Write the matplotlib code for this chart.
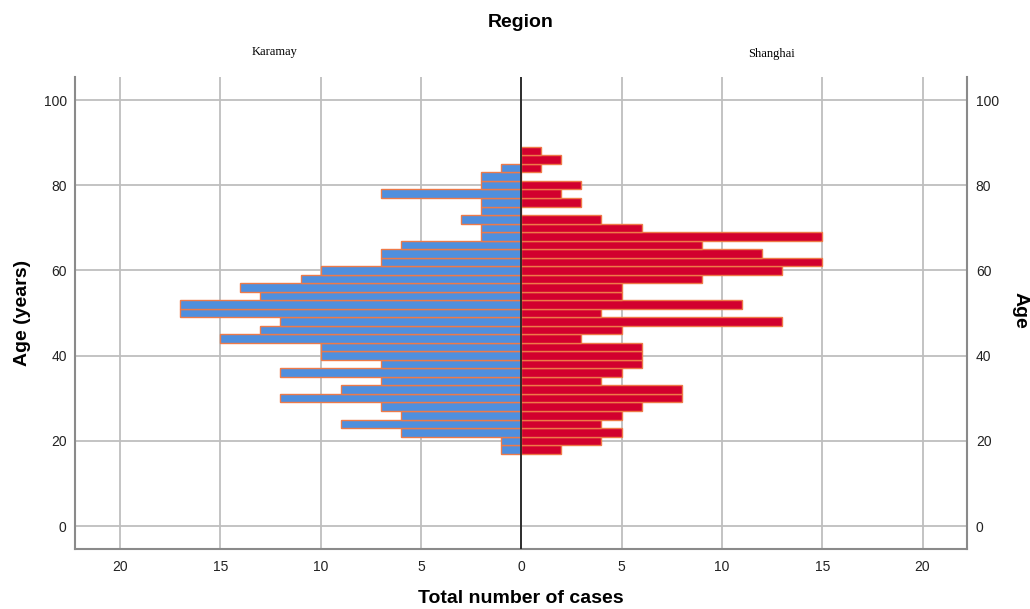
import numpy as np
import matplotlib.pyplot as plt

# age bins (lower edge, 2-year width)
edad = np.arange(17, 89, 2)

karamay = [1, 1, 6, 9, 6, 7, 12, 9, 7, 12, 7, 10, 10, 15, 13, 12, 17, 17,
           13, 14, 11, 10, 7, 7, 6, 2, 2, 3, 2, 2, 7, 2, 2, 1, 0, 0]
shanghai = [2, 4, 5, 4, 5, 6, 8, 8, 4, 5, 6, 6, 6, 3, 5, 13, 4, 11,
            5, 5, 9, 13, 15, 12, 9, 15, 6, 4, 0, 3, 2, 3, 0, 1, 2, 1]

xt = [-20, -15, -10, -5, 0, 5, 10, 15, 20]
xt_lab = ['20', '15', '10', '5', '0', '5', '10', '15', '20']
yt = [0, 20, 40, 60, 80, 100]

azul = '#4F8FDE'
rojo = '#D2002E'
borde = '#EE7A48'
gris = '#BEBEBE'
fuente = ['Liberation Sans', 'DejaVu Sans']

fig = plt.figure(figsize=(10.3, 6.09), dpi=100)
ax = fig.add_axes([0.0728, 0.0985, 0.8665, 0.775])

k = np.array(karamay)
s = np.array(shanghai)
ax.barh(edad[k > 0], -k[k > 0], height=2, align='edge', color=azul,
        edgecolor=borde, linewidth=1, zorder=3)
ax.barh(edad[s > 0], s[s > 0], height=2, align='edge', color=rojo,
        edgecolor=borde, linewidth=1, zorder=3)

ax.set_xlim(-22.24, 22.24)
ax.set_ylim(-5.4, 105.4)
ax.set_xticks(xt, xt_lab)
ax.set_yticks(yt)
ax.grid(True, color=gris, linewidth=1.3, zorder=0)
ax.set_axisbelow(True)
ax.axvline(0, color='#222222', linewidth=1.3, zorder=4)

for lado in ['left', 'right', 'bottom']:
    ax.spines[lado].set_color('#8A8A8A')
    ax.spines[lado].set_linewidth(1.5)
ax.spines['top'].set_visible(False)

ax.tick_params(axis='both', length=0, labelsize=10, labelcolor='#222222')
ax.tick_params(axis='x', pad=8)
ax.tick_params(axis='y', pad=6, labelright=True)
for t in ax.get_xticklabels() + ax.get_yticklabels():
    t.set_family(fuente)

ax.set_xlabel('Total number of cases', fontsize=14, fontweight='bold',
              family=fuente)
ax.xaxis.set_label_coords(0.5, -0.087)
ax.set_ylabel('Age (years)', fontsize=14, fontweight='bold',
              family=fuente, labelpad=9)

fig.text(0.9905, 0.49, 'Age', rotation=270, ha='center', va='center',
         fontsize=14, fontweight='bold', family=fuente)
fig.text(0.506, 0.963, 'Region', ha='center', va='center',
         fontsize=14, fontweight='bold', family=fuente)
fig.text(0.267, 0.914, 'Karamay', ha='center', va='center',
         fontsize=9, family='Liberation Serif')
fig.text(0.749, 0.912, 'Shanghai', ha='center', va='center',
         fontsize=9, family='Liberation Serif')

plt.savefig('out.png', dpi=100)
